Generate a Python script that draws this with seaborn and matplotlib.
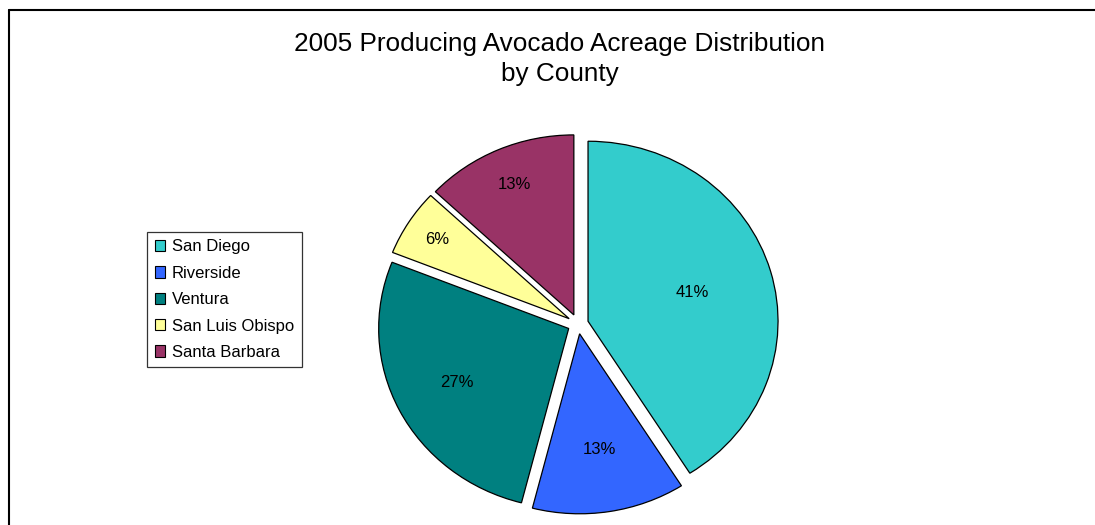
import matplotlib

matplotlib.use("Agg")
import matplotlib.pyplot as plt
import numpy as np
import seaborn as sns
from matplotlib.lines import Line2D
from matplotlib.patches import Patch

counties = ["San Diego", "Riverside", "Ventura", "San Luis Obispo", "Santa Barbara"]
shares = [41, 13, 27, 6, 13]
colors = ["#33CCCC", "#3366FF", "#008080", "#FFFF99", "#993366"]
title = "2005 Producing Avocado Acreage Distribution\nby County"

sns.set_theme(style="white")
plt.rcParams["font.family"] = ["Liberation Sans", "DejaVu Sans"]
plt.rcParams["text.color"] = "black"

W, H = 1095, 525
fig = plt.figure(figsize=(W / 100, H / 100), dpi=100)
fig.patch.set_facecolor("white")

# pie axes sized so the pie is slightly wider than tall, like the original
rx, ry = 190, 180
cx, cy = 578, 324
lim = 1.2
ax = fig.add_axes([(cx - lim * rx) / W, (H - cy - lim * ry) / H,
                   2 * lim * rx / W, 2 * lim * ry / H])

wedges, texts, autotexts = ax.pie(
    shares,
    colors=colors,
    startangle=90,
    counterclock=False,
    explode=[0.055] * len(shares),
    autopct="%d%%",
    pctdistance=0.6,
    wedgeprops=dict(edgecolor="black", linewidth=0.9),
    textprops=dict(fontsize=12, color="black"),
)
ax.set_xlim(-lim, lim)
ax.set_ylim(-lim, lim)
ax.set_aspect("auto")
ax.axis("off")

# label distances roughly as Excel put them
label_dist = [0.57, 0.65, 0.66, 0.82, 0.79]
for w, t, d in zip(wedges, autotexts, label_dist):
    mid = np.deg2rad((w.theta1 + w.theta2) / 2)
    ox, oy = w.center
    t.set_position((ox + d * np.cos(mid), oy + d * np.sin(mid)))

fig.text(560 / W, 1 - 59 / H, title, ha="center", va="center",
         fontsize=18.8, linespacing=1.32, color="black")

handles = [Patch(facecolor=c, edgecolor="black", linewidth=0.8) for c in colors]
leg = fig.legend(handles, counties, loc="upper left",
                 bbox_to_anchor=(147 / W, 1 - 232 / H),
                 fontsize=12, frameon=True, fancybox=False, shadow=False,
                 handlelength=0.65, handleheight=0.65, handletextpad=0.4,
                 labelspacing=0.68, borderpad=0.45, borderaxespad=0,
                 labelcolor="black")
leg.get_frame().set_edgecolor("black")
leg.get_frame().set_linewidth(0.9)

# outer chart border (left and top visible)
fig.add_artist(Line2D([9 / W, 9 / W], [0, 1 - 10 / H], color="black", lw=1.5,
                      transform=fig.transFigure))
fig.add_artist(Line2D([9 / W, 1], [1 - 10 / H, 1 - 10 / H], color="black", lw=1.5,
                      transform=fig.transFigure))

fig.savefig("out.png", dpi=100)
